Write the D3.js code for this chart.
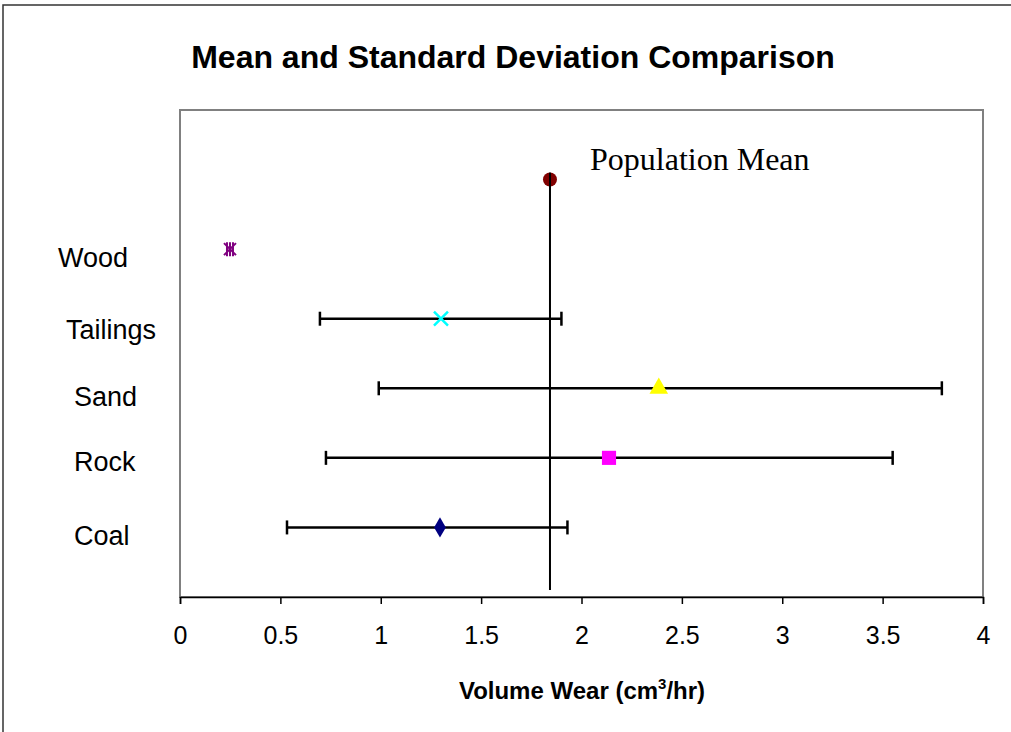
<!DOCTYPE html>
<html>
<head>
<meta charset="utf-8">
<script src="https://cdn.jsdelivr.net/npm/d3@7"></script>
<style>
  body { margin: 0; background: #fff; }
  svg { display: block; font-family: Arial, "Liberation Sans", sans-serif; }
</style>
</head>
<body>
<svg id="chart" width="1011" height="732"></svg>
<script>
// Mean volume wear per material, with +/- one standard deviation.
const categories = ['Coal', 'Rock', 'Sand', 'Tailings', 'Wood'];
const means = [1.295, 2.137, 2.385, 1.30, 0.249];
const lows = [0.533, 0.727, 0.99, 0.697, 0.249];
const highs = [1.93, 3.55, 3.795, 1.90, 0.249];
const populationMean = 1.843;
const xTicks = [0, 0.5, 1, 1.5, 2, 2.5, 3, 3.5, 4];

const svg = d3.select('#chart');
const plot = { left: 180, top: 110, right: 983, bottom: 597 };

const x = d3.scaleLinear().domain([0, 4]).range([plot.left, plot.right]);
const y = d3.scaleLinear().domain([0, 7]).range([plot.bottom, plot.top]);

// outer chart border (right/bottom edges fall outside the picture)
svg.append('rect')
    .attr('x', 3).attr('y', 5)
    .attr('width', 1020).attr('height', 740)
    .attr('fill', 'none').attr('stroke', '#333').attr('stroke-width', 1.5);

// plot area frame
svg.append('rect')
    .attr('x', plot.left).attr('y', plot.top)
    .attr('width', plot.right - plot.left).attr('height', plot.bottom - plot.top)
    .attr('fill', '#fff').attr('stroke', '#808080').attr('stroke-width', 2);

svg.append('text')
    .attr('x', 513).attr('y', 68)
    .attr('text-anchor', 'middle')
    .attr('font-size', 32).attr('font-weight', 'bold')
    .text('Mean and Standard Deviation Comparison');

// x axis below the frame
const xAxis = svg.append('g')
    .attr('transform', `translate(0,${plot.bottom})`)
    .call(d3.axisBottom(x).tickValues(xTicks).tickSize(7).tickPadding(22).tickFormat(d3.format('')));
xAxis.select('.domain').attr('stroke', '#000').attr('stroke-width', 1.5);
xAxis.selectAll('.tick line').attr('stroke', '#000').attr('stroke-width', 1.5);
xAxis.selectAll('.tick text')
    .attr('font-size', 25).attr('font-family', 'Arial, "Liberation Sans", sans-serif').attr('fill', '#000');

const xTitle = svg.append('text')
    .attr('x', 582).attr('y', 699)
    .attr('text-anchor', 'middle')
    .attr('font-size', 24).attr('font-weight', 'bold');
xTitle.append('tspan').text('Volume Wear (cm');
xTitle.append('tspan').attr('font-size', 15).attr('dy', -10).text('3');
xTitle.append('tspan').attr('dy', 10).text('/hr)');

// population mean line + marker
svg.append('line')
    .attr('x1', x(populationMean)).attr('x2', x(populationMean))
    .attr('y1', y(6)).attr('y2', y(0.1))
    .attr('stroke', '#000').attr('stroke-width', 2);
svg.append('circle')
    .attr('cx', x(populationMean)).attr('cy', y(6)).attr('r', 7)
    .attr('fill', '#800000');
svg.append('line')
    .attr('x1', x(populationMean)).attr('x2', x(populationMean))
    .attr('y1', y(6.1)).attr('y2', y(5.85))
    .attr('stroke', '#000').attr('stroke-width', 2);
svg.append('text')
    .attr('x', 590).attr('y', 170)
    .attr('font-family', '"Liberation Serif", "Times New Roman", serif')
    .attr('font-size', 32)
    .text('Population Mean');

const rows = categories.map((c, i) => ({ c, i, mean: means[i], lo: lows[i], hi: highs[i] }));

// error bars
const bars = svg.append('g').attr('stroke', '#000').attr('stroke-width', 2.5);
rows.filter(d => d.hi > d.lo).forEach(d => {
  const yy = y(d.i + 1);
  bars.append('line').attr('x1', x(d.lo)).attr('x2', x(d.hi)).attr('y1', yy).attr('y2', yy);
  bars.append('line').attr('x1', x(d.lo)).attr('x2', x(d.lo)).attr('y1', yy - 7).attr('y2', yy + 7);
  bars.append('line').attr('x1', x(d.hi)).attr('x2', x(d.hi)).attr('y1', yy - 7).attr('y2', yy + 7);
});

// markers, one style per material
const markerStyles = {
  Coal: { sym: d3.symbolDiamond, size: 120, fill: '#000080' },
  Rock: { sym: d3.symbolSquare, size: 200, fill: '#ff00ff' },
  Sand: { sym: d3.symbolTriangle, size: 150, fill: '#ffff00' },
  Tailings: { cross: true, color: '#00ffff' },
  Wood: { star: true, color: '#800080' }
};

rows.forEach(d => {
  const cx = x(d.mean), cy = y(d.i + 1);
  const st = markerStyles[d.c];
  const g = svg.append('g').attr('transform', `translate(${cx},${cy})`);
  if (st.sym) {
    g.append('path').attr('d', d3.symbol(st.sym, st.size)()).attr('fill', st.fill);
  } else if (st.cross) {
    g.append('path').attr('d', 'M-7,-7L7,7M-7,7L7,-7')
        .attr('stroke', st.color).attr('stroke-width', 2.5).attr('fill', 'none');
  } else {
    g.append('path').attr('d', 'M-6,-6L6,6M-6,6L6,-6M0,-7L0,7M-3,-7L-3,7M3,-7L3,7')
        .attr('stroke', st.color).attr('stroke-width', 2).attr('fill', 'none');
  }
});

// category labels on the left
const labelX = { Wood: 58, Tailings: 66, Sand: 74, Rock: 74, Coal: 74 };
const labelDy = { Wood: 18, Tailings: 20, Sand: 18, Rock: 13, Coal: 18 };
svg.append('g').selectAll('text')
  .data(rows)
  .join('text')
    .attr('x', d => labelX[d.c])
    .attr('y', d => y(d.i + 1) + labelDy[d.c])
    .attr('font-size', 27)
    .text(d => d.c);
</script>
</body>
</html>
